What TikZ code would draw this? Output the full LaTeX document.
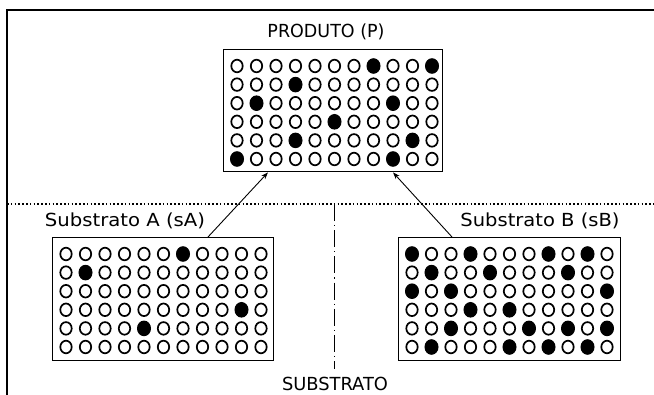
\documentclass[tikz,border=0pt]{standalone}
\usepackage{fontspec}
\setmainfont{DejaVu Sans}
\usetikzlibrary{arrows.meta,calc}

% text squeezed or stretched to a given width, height kept
\newcommand\fitlabel[2]{\resizebox{#1}{\height}{#2}}

% 6 x 11 array of wells inside a plate node; #2 lists the filled wells as row/column
\newcommand\wellgrid[2]{%
  \foreach \r in {1,...,6}{\foreach \c in {1,...,11}{
    \draw[well] ($(#1.north west)+(14+19.5*\c-19.5, 17+18.6*\r-18.6)$)
      ellipse [x radius=5.7pt, y radius=6.3pt];}}
  \foreach \r/\c in {#2}{
    \fill ($(#1.north west)+(14+19.5*\c-19.5, 17+18.6*\r-18.6)$)
      ellipse [x radius=7pt, y radius=7.8pt];}
}

\tikzset{
  plate/.style={draw, line width=1.4pt, inner sep=0pt, anchor=north west,
                minimum width=#1, minimum height=123pt},
  well/.style={line width=1.7pt},
  caption/.style={font=\fontsize{18}{20}\selectfont, inner sep=0pt},
  conn/.style={line width=0.9pt, -{Stealth[length=7pt, width=5pt]}},
  border/.style={line width=1.5pt},
}

\begin{document}
\begin{tikzpicture}[x=1pt, y=-1pt]
  \fill[white] (0,0) rectangle (654,395);
  \useasboundingbox (0,0) rectangle (654,395);

  % outer frame (left and top sides)
  \draw[border] (7,395) -- (7,10) -- (654,10);

  % section separators
  \draw[line width=1.2pt, dash pattern=on 1.6pt off 2.2pt] (7,204) -- (654,204);
  \draw[line width=1pt, dash pattern=on 17pt off 4pt on 1.2pt off 4pt] (334,204) -- (334,369);

  % plates
  \node[plate=219pt, minimum height=122pt] (P) at (223,49) {};
  \node[plate=221pt] (sA) at (52,237) {};
  \node[plate=222pt] (sB) at (398,237) {};

  \wellgrid{P}{1/8,1/11,2/4,3/2,3/9,4/6,5/4,5/10,6/1,6/9}
  \wellgrid{sA}{1/7,2/2,4/10,5/5}
  \wellgrid{sB}{1/1,1/4,1/8,1/10,2/2,2/5,2/9,3/1,3/3,3/11,4/4,4/6,5/3,5/7,5/9,5/11,6/2,6/6,6/8,6/10}

  % captions
  \node[caption] (tP) at (326,32) {\fitlabel{117pt}{PRODUTO (P)}};
  \node[caption] (tA) at (125,221) {\fitlabel{160pt}{Substrato A (sA)}};
  \node[caption] (tB) at (540,221) {\fitlabel{159pt}{Substrato B (sB)}};
  \node[caption] (tS) at (335,384) {\fitlabel{106pt}{SUBSTRATO}};

  % substrates feeding the product
  \draw[conn] ($(sA.north west)+(156,0)$) -- ($(P.south west)+(45,0)$);
  \draw[conn] ($(sB.north west)+(54,0)$) -- ($(P.south west)+(170,0)$);
\end{tikzpicture}
\end{document}
